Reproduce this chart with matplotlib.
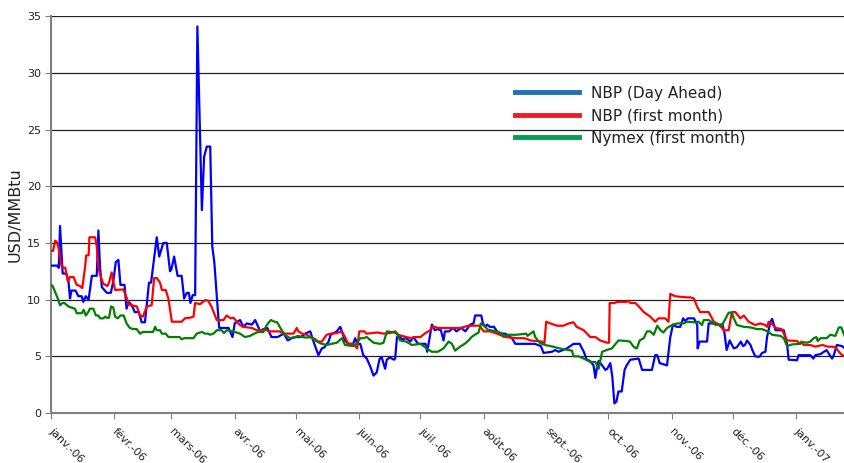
import numpy as np
import matplotlib
matplotlib.use("Agg")
import matplotlib.pyplot as plt
from matplotlib.lines import Line2D

# day offsets from 1 Jan 2006 and values (USD/MMBtu)
nbp_da_days = [0, 3, 3.8, 4.4, 5.7, 7.5, 8.5, 9.3, 10, 12, 13.4, 15, 15.8, 17, 18.4, 20, 22.4, 23.2, 24, 24.9,
               27.3, 29.3, 30.5, 31.7, 33, 34, 36, 37, 38, 39.6, 41, 43, 44.4, 46, 48, 49, 51.8, 53, 55, 56.7,
               58.3, 59, 60.3, 62, 64, 65.2, 66.5, 67.5, 68.3, 69.4, 70.6, 71.7, 73.9, 75, 76.3, 78, 79, 80, 82, 82.4,
               87, 88.9, 90, 92.6, 94.3, 95.9, 98.4, 100, 102.5, 104, 106, 108, 111, 114, 116, 118, 120, 122.5, 124.5, 127,
               128.6, 131, 132.7, 134, 136, 137, 140, 141.7, 144, 145.6, 148, 149, 150, 151.5, 153, 154.7, 156.4, 158, 159.6, 161,
               162, 163.7, 164.5, 166, 168, 168.6, 169.5, 171, 172, 174, 176, 177.6, 179, 180, 182, 183.5, 184.3, 185.8, 186.6, 188,
               189.5, 191, 192.3, 193, 195, 197, 198.6, 201, 203, 205.4, 207, 207.8, 210.8, 211.6, 212.8, 213.6, 215, 217, 219.3, 222.5,
               225.8, 227.5, 237, 240, 241.3, 245.4, 247, 248.7, 252.8, 256, 259, 261, 262.5, 264, 265.8, 266.7, 267.4, 268.3, 270, 271.6,
               272.5, 274, 275, 276, 277, 278, 279.6, 281, 282, 283.8, 287.9, 289.6, 294.4, 296, 297, 298.2, 301.8, 303.4, 304.7, 306.5,
               308.3, 309.7, 310.8, 312, 315, 316.6, 316.8, 317.8, 321.4, 322.2, 324, 325.7, 329, 330, 331, 332.5, 334.5, 336, 338, 339,
               340, 341, 342.7, 343.5, 345, 347, 348.4, 350, 350.8, 352.5, 353.3, 355, 359, 360.6, 361.4, 365.5, 366.3, 372, 373.5, 374.5,
               377, 380, 381.5, 382.7, 383.5, 385, 387.5, 389]
nbp_da_vals = [13.0, 13.0, 12.8, 16.5, 12.3, 12.3, 11.7, 10.1, 10.8, 10.8, 10.3, 10.3, 9.8, 10.3, 10.0, 12.1, 12.1, 16.1, 12.9, 11.1,
               10.6, 10.6, 11.6, 13.3, 13.5, 11.3, 11.3, 9.2, 9.8, 9.5, 8.9, 8.9, 8.0, 8.0, 11.5, 11.5, 15.5, 13.8, 15.0, 15.0,
               12.5, 12.7, 13.8, 12.1, 12.1, 10.1, 10.6, 10.6, 9.7, 10.4, 10.4, 34.1, 17.9, 22.6, 23.5, 23.5, 14.7, 13.3, 8.35, 7.5,
               7.5, 6.7, 7.9, 8.2, 7.6, 7.9, 7.8, 8.2, 7.2, 7.4, 7.5, 6.7, 6.7, 7.0, 6.4, 6.6, 6.7, 6.7, 7.0, 7.2,
               6.3, 5.1, 5.7, 5.8, 6.3, 6.9, 7.2, 7.6, 6.4, 6.1, 6.1, 6.6, 6.1, 6.1, 5.1, 4.8, 4.1, 3.3, 3.6, 4.8,
               4.9, 3.9, 4.7, 4.9, 4.7, 4.8, 6.7, 6.7, 6.5, 6.6, 6.3, 6.7, 6.3, 6.1, 6.1, 6.1, 5.4, 7.0, 7.8, 7.3,
               7.4, 7.3, 6.4, 7.2, 7.2, 7.5, 7.2, 7.5, 7.2, 7.8, 7.9, 8.6, 8.6, 7.9, 7.6, 7.8, 7.6, 7.6, 7.0, 7.0,
               6.6, 6.1, 6.1, 5.9, 5.3, 5.4, 5.55, 5.4, 5.7, 6.1, 6.1, 5.4, 4.7, 4.6, 4.2, 3.1, 3.9, 4.6, 4.2, 3.8,
               3.9, 4.4, 3.2, 0.85, 1.0, 1.9, 1.9, 3.8, 4.2, 4.7, 4.8, 3.8, 3.8, 5.1, 5.1, 4.4, 4.2, 6.7, 7.8, 7.6,
               7.6, 8.35, 8.1, 8.35, 8.35, 7.8, 5.7, 6.3, 6.3, 7.9, 7.9, 7.8, 7.8, 7.0, 5.55, 6.4, 5.7, 5.8, 6.3, 5.9,
               6.0, 6.4, 6.0, 5.6, 5.0, 4.95, 5.3, 5.4, 6.7, 8.05, 8.3, 7.3, 7.3, 6.1, 4.7, 4.65, 5.1, 5.1, 4.8, 5.1,
               5.2, 5.55, 5.1, 4.8, 5.1, 6.0, 5.9, 5.7]

nbp_m1_days = [0, 1, 2, 2.8, 3.5, 4.4, 5.2, 7, 8.2, 9.3, 11, 12.6, 14.2, 15.3, 16.7, 17.2, 18.4, 18.8, 21.6, 22.4,
               23.2, 24, 25.6, 27.6, 28.6, 29.7, 30.5, 31.4, 35.4, 37, 37.8, 39.2, 42, 43.6, 45, 46.9, 49.3, 50.5, 51.8, 53.4,
               54.3, 56.2, 57.5, 59.2, 64, 65.6, 68, 69.8, 70.6, 73, 75.5, 77, 78.8, 81.2, 84.5, 86, 88, 89.5, 91, 92.6,
               94, 98.4, 100.8, 105.7, 107, 112, 114, 118.8, 120.4, 121.2, 123, 125.4, 127, 128.6, 131, 132.7, 135, 137, 140, 142.5,
               144, 145.6, 148, 149, 150, 151, 153.5, 154.5, 160, 163, 166, 168.6, 170, 174, 176.7, 178.3, 181, 183, 185.8, 186.5,
               188, 189.5, 195.6, 200.5, 204.6, 210, 212, 215, 218.5, 222.5, 228, 232, 234.8, 240.5, 241.7, 242.6, 244.6, 247.9, 251, 253.6,
               256, 257.5, 261, 264.2, 266.7, 269, 272.4, 273.4, 273.7, 276, 277.5, 282, 282.8, 283.8, 286.3, 288, 290.4, 293.6, 296, 297.6,
               300.9, 302.5, 303.4, 305.8, 308.3, 311.6, 313.3, 315, 316.5, 318, 322.2, 324.7, 326.4, 328.8, 329.6, 332, 333.6, 335.3, 337.7, 339.4,
               341.8, 345, 347.5, 349.9, 350.8, 351.6, 353, 355, 358, 360.6, 365.5, 366.8, 367.6, 368.8, 372, 374.5, 378, 380.5, 382.7, 384.3,
               386, 387.6, 389]
nbp_m1_vals = [14.3, 14.3, 15.2, 15.1, 14.7, 13.8, 12.9, 12.8, 11.6, 12.0, 12.0, 11.3, 11.2, 11.0, 12.9, 13.9, 13.9, 15.5, 15.5, 14.7,
               12.9, 12.2, 11.4, 11.2, 11.6, 12.4, 11.6, 10.85, 10.9, 10.2, 9.6, 9.5, 9.4, 8.6, 8.5, 9.4, 9.5, 11.9, 11.9, 11.5,
               10.85, 10.85, 10.1, 8.05, 8.05, 8.35, 8.4, 8.5, 9.7, 9.6, 9.96, 9.9, 9.3, 8.2, 8.2, 8.6, 8.35, 8.4, 8.05, 7.76,
               7.6, 7.5, 7.3, 7.3, 7.2, 7.2, 7.0, 7.0, 7.5, 7.2, 7.0, 6.9, 6.7, 6.6, 6.3, 6.3, 6.9, 7.0, 7.05, 7.2,
               6.7, 6.1, 6.1, 5.9, 5.7, 7.2, 7.2, 7.0, 7.1, 7.0, 7.05, 7.2, 6.9, 6.7, 6.6, 6.7, 6.7, 7.0, 7.3, 7.6,
               7.6, 7.5, 7.5, 7.5, 7.7, 7.7, 7.2, 7.2, 7.0, 6.7, 6.6, 6.6, 6.4, 6.3, 6.1, 8.05, 7.9, 7.7, 7.7, 7.9,
               8.0, 7.6, 7.3, 6.7, 6.7, 6.4, 6.2, 6.2, 9.7, 9.7, 9.8, 9.8, 9.9, 9.7, 9.7, 9.4, 8.9, 8.5, 8.05, 8.35,
               8.35, 8.05, 10.5, 10.3, 10.25, 10.2, 10.2, 10.1, 9.4, 8.9, 8.9, 8.05, 7.9, 7.5, 7.3, 7.3, 8.9, 8.9, 8.35, 8.6,
               8.05, 7.76, 7.9, 7.76, 7.6, 8.05, 7.9, 7.5, 7.4, 6.4, 6.35, 6.1, 6.3, 6.0, 6.0, 5.85, 6.0, 5.85, 5.85, 5.8,
               5.4, 5.1, 5.0]

nymex_days = [0, 0.8, 2.3, 3.3, 4.4, 5.6, 6.6, 8.5, 10, 11.7, 12.6, 15, 16, 17, 18.4, 19, 20.7, 22, 23.2, 24,
              25.6, 26.5, 27.3, 28.4, 29.4, 30.5, 31.4, 32.7, 34, 35.6, 37, 38.6, 40.3, 42, 43.6, 45, 50, 51, 51.8, 53.4,
              54.3, 56.2, 57.5, 63, 64, 65.2, 69.8, 71.4, 73.9, 75.5, 77, 77.8, 79.6, 81.2, 83.6, 84.8, 86, 89.3, 92.6, 95,
              97.5, 99.5, 101.6, 104, 105.7, 107.7, 109.6, 110.8, 113, 114.6, 117, 119.5, 121, 123, 125.3, 127, 129.4, 131.9, 135, 137.5,
              140, 142.5, 144, 148, 149.6, 151.5, 153, 154.7, 158, 161.3, 162.9, 164.6, 168, 169.5, 171, 174, 176.8, 181, 184, 186.6,
              189.5, 192.3, 194.8, 196.4, 198, 200.4, 203, 204.6, 206, 207.6, 209.5, 210.6, 212.8, 213.9, 218.5, 221, 221.8, 223.4, 228, 232.8,
              233.4, 236.4, 237.2, 239.7, 242, 246, 249, 253.6, 255.2, 256, 258.5, 261, 264.2, 266.7, 268.3, 270, 273, 274.8, 278, 282,
              283.6, 285.4, 287, 288.4, 290.4, 292, 293.6, 295.3, 297, 298.6, 300, 301.8, 304.3, 306.7, 310, 311.6, 315.7, 317.3, 318.9, 319.8,
              322.2, 324.7, 326.4, 328.8, 330.4, 332, 333.6, 334.5, 336, 339.4, 342.7, 345.9, 348.4, 351, 353.3, 357.4, 359, 360.6, 363, 367,
              368.6, 370.3, 372, 373.7, 375, 375.6, 377, 380, 381.8, 384.3, 386, 387.2, 388.4, 389]
nymex_vals = [11.3, 11.2, 10.55, 10.1, 9.5, 9.7, 9.7, 9.4, 9.3, 9.2, 8.8, 8.8, 9.1, 8.6, 8.95, 9.2, 9.2, 8.6, 8.6, 8.35,
              8.35, 8.5, 8.4, 8.4, 9.4, 9.3, 8.5, 8.35, 8.6, 8.6, 7.9, 7.5, 7.4, 7.4, 7.0, 7.15, 7.15, 7.6, 7.3, 7.3,
              7.0, 7.0, 6.7, 6.7, 6.5, 6.6, 6.6, 7.0, 7.15, 7.0, 7.0, 6.9, 7.0, 7.3, 7.3, 7.05, 7.3, 7.2, 7.0, 6.7,
              6.8, 7.0, 7.15, 7.15, 7.76, 8.2, 8.05, 8.0, 7.3, 6.9, 6.6, 6.7, 6.8, 6.7, 6.65, 6.7, 6.4, 6.15, 6.0, 6.1,
              6.2, 6.6, 6.0, 5.9, 6.1, 6.6, 6.6, 6.7, 6.2, 6.1, 6.2, 7.2, 7.1, 7.0, 6.4, 6.3, 6.0, 6.1, 5.7, 5.4,
              5.4, 5.7, 6.3, 6.1, 5.5, 5.85, 6.15, 6.4, 6.7, 6.9, 7.1, 7.9, 7.6, 7.35, 7.2, 7.0, 6.7, 6.9, 6.9, 7.0,
              6.8, 7.2, 6.7, 6.15, 6.0, 5.85, 5.7, 5.55, 5.5, 5.0, 5.0, 4.8, 4.5, 4.5, 3.9, 5.4, 5.6, 5.7, 6.4, 6.35,
              6.3, 5.85, 5.7, 6.4, 6.6, 7.2, 7.2, 6.9, 7.7, 7.3, 7.1, 7.5, 7.76, 7.9, 7.9, 8.05, 8.0, 8.05, 7.76, 8.2,
              8.2, 7.9, 7.76, 7.76, 8.3, 8.85, 8.85, 8.35, 7.76, 7.6, 7.55, 7.4, 7.4, 7.2, 6.9, 6.8, 6.6, 5.9, 6.05, 6.1,
              6.25, 6.2, 6.3, 6.6, 6.7, 6.35, 6.6, 6.6, 6.9, 6.8, 7.55, 7.55, 7.0, 6.7]

tick_labels = ["janv.-06", "févr.-06", "mars-06", "avr.-06", "mai-06", "juin-06", "juil.-06",
               "août-06", "sept.-06", "oct.-06", "nov.-06", "déc.-06", "janv.-07"]
series_names = ["NBP (Day Ahead)", "NBP (first month)", "Nymex (first month)"]

start = np.datetime64("2006-01-01")
month_starts = np.arange(np.datetime64("2006-01"), np.datetime64("2007-02"), np.timedelta64(1, "M"))
tick_pos = (month_starts.astype("datetime64[D]") - start).astype(int)

fig = plt.figure(figsize=(8.45, 4.63), dpi=100)
ax = fig.add_axes([0.0604, 0.108, 0.9396, 0.857])

ax.plot(nbp_da_days, nbp_da_vals, color="#0000FF", lw=1.6, zorder=3)
ax.plot(nbp_m1_days, nbp_m1_vals, color="#FF0000", lw=1.6, zorder=3)
ax.plot(nymex_days, nymex_vals, color="#008000", lw=1.6, zorder=3)

ax.set_xlim(0, 389)
ax.set_ylim(0, 35)
ax.set_yticks(range(0, 36, 5))
ax.yaxis.grid(True, color="#222222", lw=0.9)
ax.set_axisbelow(True)

ax.set_xticks(tick_pos)
ax.set_xticklabels(tick_labels, rotation=-45, ha="left", va="center", rotation_mode="anchor", fontsize=8)
ax.tick_params(axis="both", direction="out", color="#808080", length=4, labelsize=8, labelcolor="#222222")
ax.tick_params(axis="x", pad=8)
ax.tick_params(axis="y", pad=3)

for s in ["top", "right"]:
    ax.spines[s].set_visible(False)
ax.spines["left"].set_color("#808080")
ax.spines["left"].set_linewidth(1.5)
ax.spines["bottom"].set_color("#808080")
ax.spines["bottom"].set_linewidth(1.5)

ax.set_ylabel("USD/MMBtu", fontsize=11.5, color="#222222", labelpad=3)

handles = [Line2D([], [], color="#1F72B8", lw=3.5),
           Line2D([], [], color="#ED1C24", lw=3.5),
           Line2D([], [], color="#00A14B", lw=3.5)]
leg = ax.legend(handles, series_names, loc="upper left", bbox_to_anchor=(0.567, 0.86),
                frameon=False, fontsize=11, handlelength=4.2, handletextpad=0.8,
                labelspacing=0.5)
for t in leg.get_texts():
    t.set_color("#222222")

fig.savefig("out.png", dpi=100)
